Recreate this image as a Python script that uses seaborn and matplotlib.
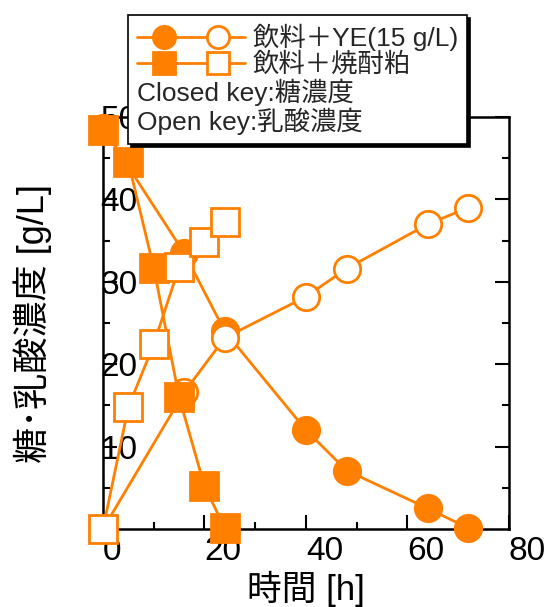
import matplotlib
matplotlib.use("Agg")
import matplotlib.pyplot as plt
from matplotlib.lines import Line2D
from matplotlib.legend_handler import HandlerTuple
import seaborn as sns
import pandas as pd

# Time course data [h] and concentrations [g/L]
ye_time = [0, 16, 24, 40, 48, 64, 72]
ye_sugar = [48.7, 33.5, 24.0, 12.0, 7.1, 2.5, 0.1]
ye_lactic = [0.0, 16.6, 23.2, 28.2, 31.6, 37.0, 39.0]

shochu_time = [0, 5, 10, 15, 20, 24]
shochu_sugar = [48.4, 44.5, 31.7, 16.0, 5.2, 0.1]
shochu_lactic = [0.0, 14.8, 22.4, 31.8, 34.8, 37.3]

series_labels = ["飲料＋YE(15 g/L)", "飲料＋焼酎粕"]
key_notes = ["Closed key:糖濃度", "Open key:乳酸濃度"]
x_label = "時間 [h]"
y_label = "糖･乳酸濃度 [g/L]"
x_major = [0, 20, 40, 60, 80]
x_minor = [10, 30, 50, 70]
y_major = [10, 20, 30, 40, 50]
y_minor = [5, 15, 25, 35, 45]

sns.set_theme(style="ticks")
plt.rcParams["font.family"] = ["Liberation Sans", "Noto Sans CJK JP"]

ORANGE = "#FF8000"

fig = plt.figure(figsize=(5.49, 6.07), dpi=100)
ax = fig.add_axes([0.1876, 0.1285, 0.7395, 0.6787])

ye = pd.DataFrame({"t": ye_time, "sugar": ye_sugar, "lactic": ye_lactic})
sh = pd.DataFrame({"t": shochu_time, "sugar": shochu_sugar, "lactic": shochu_lactic})

common = dict(color=ORANGE, linewidth=2, clip_on=False, zorder=3,
              sort=False, estimator=None, mew=2, mec=ORANGE)

sns.lineplot(data=ye, x="t", y="sugar", ax=ax, marker="o", markersize=19,
             mfc=ORANGE, **common)
sns.lineplot(data=ye, x="t", y="lactic", ax=ax, marker="o", markersize=19,
             mfc="white", **common)
sns.lineplot(data=sh, x="t", y="sugar", ax=ax, marker="s", markersize=19.5,
             mfc=ORANGE, **common)
sns.lineplot(data=sh, x="t", y="lactic", ax=ax, marker="s", markersize=19.5,
             mfc="white", **common)

ax.set_xlim(0, 80)
ax.set_ylim(0, 50)
ax.set_xticks(x_major)
ax.set_xticks(x_minor, minor=True)
ax.set_yticks(y_major)
ax.set_yticks(y_minor, minor=True)

for side in ["left", "right", "top", "bottom"]:
    ax.spines[side].set_visible(True)
    ax.spines[side].set_linewidth(1.8)
    ax.spines[side].set_color("black")

ax.tick_params(axis="both", which="both", direction="in", color="black",
               width=1.5, labelsize=24, labelcolor="black")
ax.tick_params(axis="both", which="major", length=10)
ax.tick_params(axis="both", which="minor", length=5)
ax.tick_params(axis="y", which="both", left=True, right=True, pad=2)
ax.tick_params(axis="x", which="both", bottom=True, top=False, pad=5)
plt.setp(ax.get_xticklabels(), ha="left")
plt.setp(ax.get_yticklabels(), ha="left")

ax.set_xlabel(x_label, fontsize=25, labelpad=3, color="black")
ax.set_ylabel(y_label, fontsize=26, labelpad=35, color="black")

# Legend: closed/open marker pairs for each medium, plus the key notes
def pair(marker, ms):
    closed = Line2D([], [], color=ORANGE, lw=2, marker=marker, ms=ms,
                    mfc=ORANGE, mec=ORANGE, mew=2)
    opened = Line2D([], [], color=ORANGE, lw=2, marker=marker, ms=ms,
                    mfc="white", mec=ORANGE, mew=2)
    return (closed, opened)

blank = Line2D([], [], lw=0)
handles = [pair("o", 16), pair("s", 16), blank, blank]
labels = series_labels + key_notes
leg = ax.legend(handles, labels, loc="upper left",
                bbox_to_anchor=(128 / 549, 1 - 15 / 607),
                bbox_transform=fig.transFigure, borderaxespad=0,
                fontsize=19, handlelength=4.1, handletextpad=0.27,
                labelspacing=0.05, borderpad=0.35, fancybox=False,
                frameon=True, framealpha=1, edgecolor="black",
                shadow={"color": "black", "alpha": 1},
                handler_map={tuple: HandlerTuple(ndivide=None, pad=0)})
leg.get_frame().set_linewidth(1.2)
leg.set_zorder(10)

# the key-note rows carry no marker, so their text starts at the handle column
rows = leg._legend_handle_box.get_children()[0].get_children()
for row in rows[2:]:
    kids = row.get_children()
    del kids[0]

fig.savefig("out.png", dpi=100, facecolor="white")
